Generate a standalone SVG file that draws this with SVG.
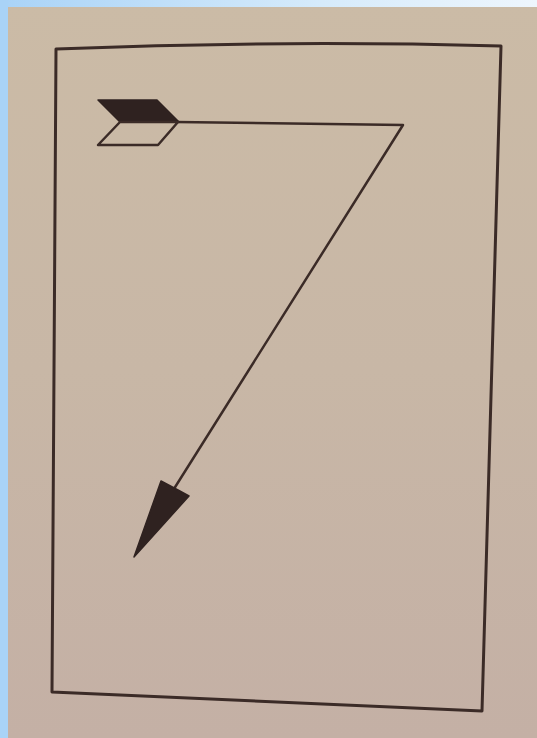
<svg xmlns="http://www.w3.org/2000/svg" width="537" height="738" viewBox="0 0 537 738">
  <defs>
    <linearGradient id="topBlue" x1="0" y1="0" x2="1" y2="0">
      <stop offset="0" stop-color="#a9d3f7"/>
      <stop offset="0.6" stop-color="#d6ebfb"/>
      <stop offset="1" stop-color="#eef6fd"/>
    </linearGradient>
    <linearGradient id="paper" x1="0" y1="0" x2="0" y2="1">
      <stop offset="0" stop-color="#cbbba6"/>
      <stop offset="0.5" stop-color="#c8b7a6"/>
      <stop offset="1" stop-color="#c4b0a5"/>
    </linearGradient>
  </defs>
  <style>
    .ink { stroke: #3b2b27; fill: none; stroke-linejoin: round; stroke-linecap: round; }
    .frame { stroke-width: 3; }
    .shaft { stroke-width: 2.5; }
    .solid { fill: #2f2220; stroke: #2f2220; stroke-width: 1.5; stroke-linejoin: round; }
    .hollow { fill: none; stroke: #3b2b27; stroke-width: 2.5; stroke-linejoin: round; }
  </style>
  <rect x="0" y="0" width="537" height="738" fill="url(#paper)"/>
  <rect x="0" y="0" width="537" height="7" fill="url(#topBlue)"/>
  <rect x="0" y="0" width="8" height="738" fill="#a9d3f7"/>

  <g id="frame">
    <path class="ink frame" d="M56 49 Q 280 40 501 46 L 482 711 L 52 692 Z"/>
  </g>

  <g id="connectors">
    <g id="arrow">
      <polyline class="ink shaft" points="176,122 403,125 172,492"/>
      <polygon class="solid" points="98,100 157,100 179,122 120,122"/>
      <polygon class="hollow" points="120,122 178,122 158,145 98,145"/>
      <polygon class="solid" points="134,557 161,481 178,490 189,496"/>
    </g>
  </g>
</svg>
